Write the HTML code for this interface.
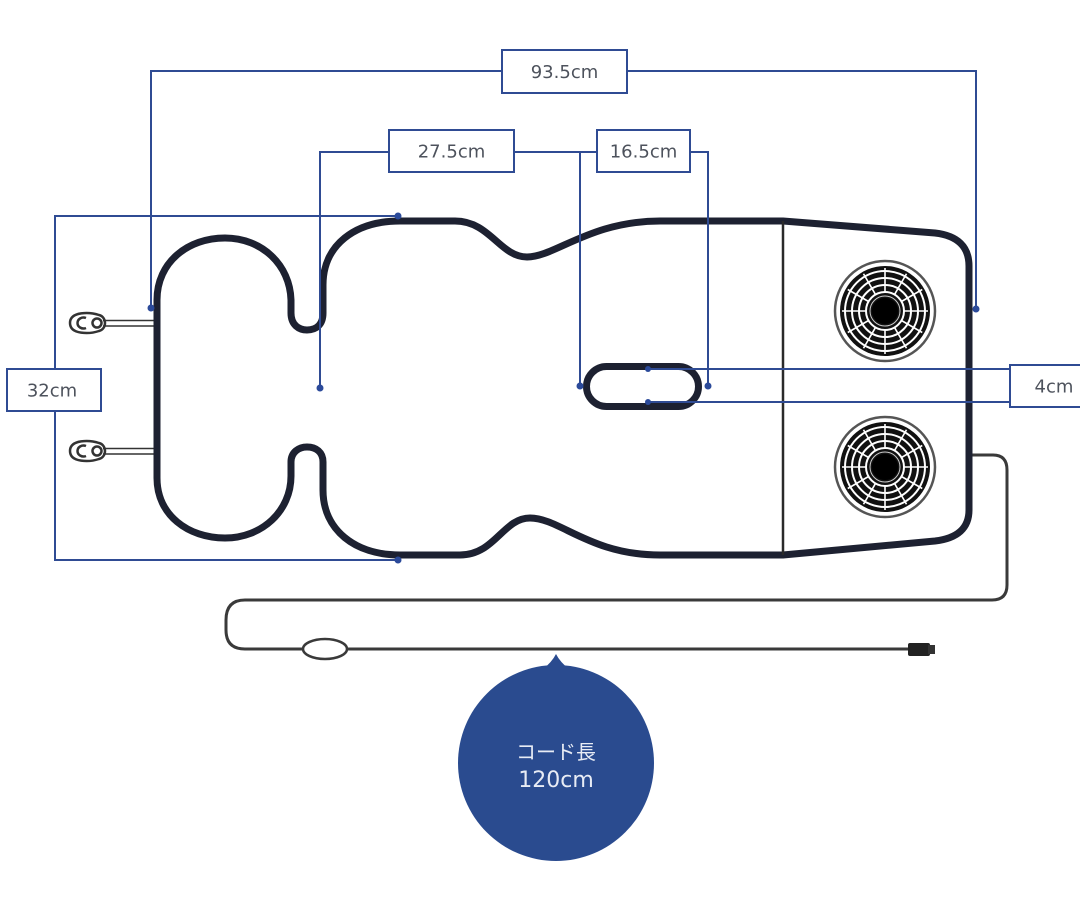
<!DOCTYPE html>
<html>
<head>
<meta charset="utf-8">
<style>
html,body{margin:0;padding:0;background:#fff;}
svg{display:block;}
.dim{fill:none;stroke:#2f4b93;stroke-width:2;}
.box{fill:#fff;stroke:#2f4b93;stroke-width:2;}
.lbl{font-family:"DejaVu Sans","Liberation Sans",sans-serif;font-size:18px;fill:#4d525c;text-anchor:middle;}
.dot{fill:#2b4a9a;}
</style>
</head>
<body>
<svg width="1080" height="913" viewBox="0 0 1080 913" xmlns="http://www.w3.org/2000/svg">
  <defs>
    <g id="fan">
      <circle r="50" fill="#fff" stroke="#555" stroke-width="2.5"/>
      <circle r="45" fill="#111"/>
      <g fill="none" stroke="#fff" stroke-width="2">
        <circle r="40"/><circle r="33"/><circle r="26"/><circle r="19"/>
      </g>
      <g stroke="#fff" stroke-width="1.6">
        <line x1="0" y1="-19" x2="0" y2="-43"/>
        <line x1="0" y1="-19" x2="0" y2="-43" transform="rotate(30)"/>
        <line x1="0" y1="-19" x2="0" y2="-43" transform="rotate(60)"/>
        <line x1="0" y1="-19" x2="0" y2="-43" transform="rotate(90)"/>
        <line x1="0" y1="-19" x2="0" y2="-43" transform="rotate(120)"/>
        <line x1="0" y1="-19" x2="0" y2="-43" transform="rotate(150)"/>
        <line x1="0" y1="-19" x2="0" y2="-43" transform="rotate(180)"/>
        <line x1="0" y1="-19" x2="0" y2="-43" transform="rotate(210)"/>
        <line x1="0" y1="-19" x2="0" y2="-43" transform="rotate(240)"/>
        <line x1="0" y1="-19" x2="0" y2="-43" transform="rotate(270)"/>
        <line x1="0" y1="-19" x2="0" y2="-43" transform="rotate(300)"/>
        <line x1="0" y1="-19" x2="0" y2="-43" transform="rotate(330)"/>
      </g>
      <circle r="15" fill="none" stroke="#ccc" stroke-width="1"/>
      <circle r="13" fill="#000"/>
    </g>
    <g id="hook" fill="none" stroke="#333" stroke-width="2.5">
      <path d="M99,315 C90,312 70,311 70,323 C70,335 90,334 99,331 C107,329 107,317 99,315 Z"/>
      <path d="M86,318 A6,5.5 0 1,0 86,328"/>
      <circle cx="97" cy="323" r="4.5"/>
      <line x1="103" y1="320.5" x2="156" y2="320.5" stroke-width="1.6"/>
      <line x1="103" y1="326" x2="156" y2="326" stroke-width="1.6"/>
    </g>
  </defs>

  <!-- hooks -->
  <use href="#hook"/>
  <use href="#hook" transform="translate(0,128)"/>

  <!-- cord -->
  <path d="M968,455 L993,455 Q1007,455 1007,470 L1007,585 Q1007,600 992,600 L245,600 Q226,600 226,620 L226,630 Q226,649 245,649 L303,649 M347,649 L910,649" fill="none" stroke="#3a3a3a" stroke-width="3"/>
  <ellipse cx="325" cy="649" rx="22" ry="10" fill="#fff" stroke="#3a3a3a" stroke-width="2.5"/>
  <rect x="908" y="643" width="22" height="13" rx="2" fill="#222"/>
  <rect x="928" y="645" width="7" height="9" fill="#333"/>

  <!-- main mat outline -->
  <path d="M157,300 C157,262 188,238 225,238 C262,238 290,265 291,300 L291,313 C291,325 299,330 307,330 C316,330 323,325 323,313 L323,285 C323,245 355,221 400,221 L455,221 C490,221 500,257 527,257 C555,257 590,221 660,221 L783,221 L935,233 Q969,237 969,266 L969,510 Q969,537 935,541 L783,555 L660,555 C590,555 560,518 530,518 C503,518 495,555 460,555 L400,555 C355,555 323,530 323,490 L323,462 C323,452 316,447 307,447 C299,447 291,452 291,462 L291,476 C291,511 262,538 225,538 C188,538 157,515 157,478 Z" fill="none" stroke="#1d2131" stroke-width="7" stroke-linejoin="round"/>
  <line x1="783" y1="221" x2="783" y2="555" stroke="#2a2a2a" stroke-width="2.5"/>
  <rect x="586.5" y="366.5" width="112" height="40" rx="20" fill="none" stroke="#1d2131" stroke-width="7"/>

  <!-- fans -->
  <use href="#fan" transform="translate(885,311)"/>
  <use href="#fan" transform="translate(885,467)"/>

  <!-- dimension lines -->
  <path class="dim" d="M151,308 L151,71 L976,71 L976,309"/>
  <path class="dim" d="M320,388 L320,152 L708,152 L708,386"/>
  <path class="dim" d="M580,152 L580,386"/>
  <path class="dim" d="M398,216 L55,216 L55,560 L398,560"/>
  <path class="dim" d="M648,369 L1012,369 M648,402 L1012,402"/>

  <!-- dots -->
  <circle class="dot" cx="151" cy="308" r="3.5"/>
  <circle class="dot" cx="976" cy="309" r="3.5"/>
  <circle class="dot" cx="320" cy="388" r="3.5"/>
  <circle class="dot" cx="580" cy="386" r="3.5"/>
  <circle class="dot" cx="708" cy="386" r="3.5"/>
  <circle class="dot" cx="398" cy="216" r="3.5"/>
  <circle class="dot" cx="398" cy="560" r="3.5"/>
  <circle class="dot" cx="648" cy="369" r="3"/>
  <circle class="dot" cx="648" cy="402" r="3"/>

  <!-- label boxes -->
  <rect class="box" x="502" y="50" width="125" height="43"/>
  <text class="lbl" x="564.5" y="78">93.5cm</text>
  <rect class="box" x="389" y="130" width="125" height="42"/>
  <text class="lbl" x="451.5" y="157.5">27.5cm</text>
  <rect class="box" x="597" y="130" width="93" height="42"/>
  <text class="lbl" x="643.5" y="157.5">16.5cm</text>
  <rect class="box" x="7" y="369" width="94" height="42"/>
  <text class="lbl" x="52" y="396.5">32cm</text>
  <rect class="box" x="1010" y="365" width="90" height="42"/>
  <text class="lbl" x="1054" y="392.5">4cm</text>

  <!-- blue bubble -->
  <circle cx="556" cy="763" r="98" fill="#2a4b8f"/>
  <path d="M543,669 Q552,662 556,654 Q560,662 569,669 Z" fill="#2a4b8f"/>
  <text x="556" y="759" text-anchor="middle" font-family="'Liberation Sans','Noto Sans CJK JP',sans-serif" font-size="20" fill="#e8ecf5">コード長</text>
  <text x="556" y="787" text-anchor="middle" font-family="'DejaVu Sans','Liberation Sans',sans-serif" font-size="22" fill="#e8ecf5">120cm</text>
</svg>
</body>
</html>
